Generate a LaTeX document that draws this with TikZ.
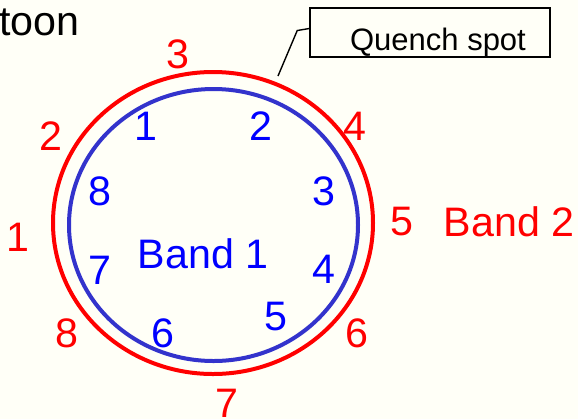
\documentclass[tikz,border=0pt]{standalone}
\usepackage{fontspec}
\setmainfont{Liberation Sans}
\usepackage{tikz}
\usetikzlibrary{positioning}
\usepackage{xcolor}
\definecolor{paper}{RGB}{255,255,247}
\definecolor{ringblue}{RGB}{51,51,204}

\begin{document}
\begin{tikzpicture}[
  x=0.5pt,y=-0.5pt,
  big/.style={font=\fontsize{20.6}{24}\selectfont,inner sep=0pt},
  redlabel/.style={big,text=red},
  bluelabel/.style={big,text=blue},
  outerring/.style={draw=red,line width=2pt},
  innerring/.style={draw=ringblue,line width=2pt},
  callout/.style={draw=black,line width=0.75pt,minimum width=120pt,minimum height=24.5pt,inner sep=0pt},
  leader/.style={line width=0.7pt}
]
\fill[paper] (0,0) rectangle (578,419);
\useasboundingbox (0,0) rectangle (578,419);

\node[big,anchor=base west] (title) at (-1,35) {toon};

% the two coils
\coordinate (centre) at (213,224);
\draw[outerring] (213,223) ellipse [x radius=80pt,y radius=75.5pt];
\draw[innerring] (213.5,225) ellipse [x radius=72.25pt,y radius=68pt];

% band 2, outside
\node[redlabel] (r1) at (18,237) {1};
\node[redlabel] (r2) at (51,136) {2};
\node[redlabel] (r3) at (178,54) {3};
\node[redlabel] (r4) at (355,126) {4};
\node[redlabel] (r5) at (402,222) {5};
\node[redlabel] (r6) at (357,333) {6};
\node[redlabel] (r7) at (227,403) {7};
\node[redlabel] (r8) at (67,333) {8};
\node[redlabel] (band2) at (509,222) {Band 2};

% band 1, inside
\node[bluelabel] (b1) at (146,126) {1};
\node[bluelabel] (b2) at (261,126) {2};
\node[bluelabel] (b3) at (324,191) {3};
\node[bluelabel] (b4) at (324,269) {4};
\node[bluelabel] (b5) at (276,317) {5};
\node[bluelabel] (b6) at (163,333) {6};
\node[bluelabel] (b7) at (100,270) {7};
\node[bluelabel] (b8) at (100,191) {8};
\node[bluelabel] (band1) at (203,254) {Band 1};

% quench spot callout
\node[callout] (qbox) at (430,32.5) {};
\node[font=\fontsize{15.5}{18}\selectfont,anchor=base,inner sep=0pt] (qtext) at (438,50) {Quench spot};
\coordinate (spot) at (278,76);
\draw[leader] ([yshift=2pt]qbox.west) -- ++(-12,2) -- (spot);
\end{tikzpicture}
\end{document}
